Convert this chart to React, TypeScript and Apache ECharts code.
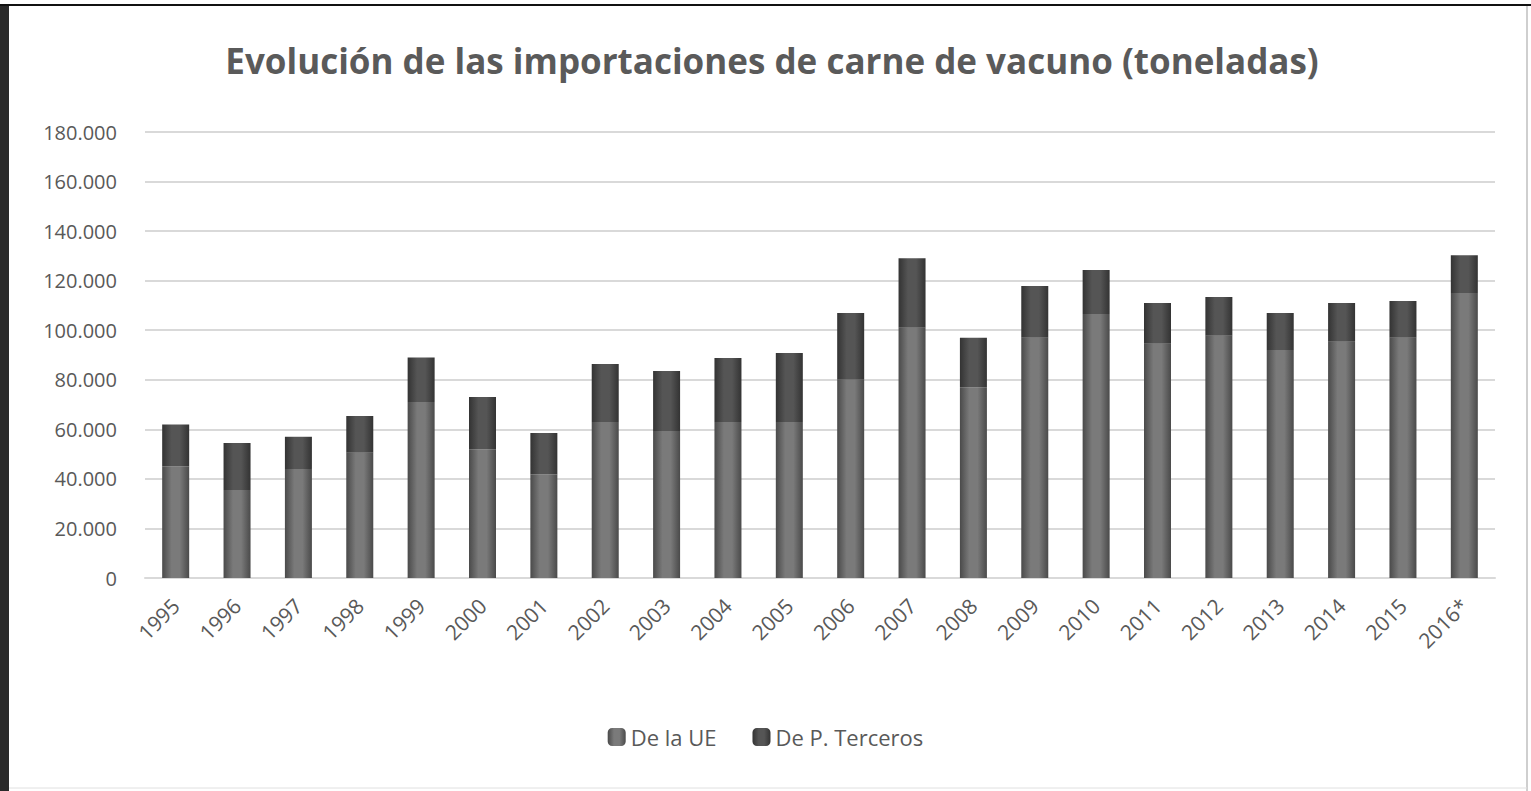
import React, { useEffect, useRef } from "react";
import * as echarts from "echarts";

const years = ["1995","1996","1997","1998","1999","2000","2001","2002","2003","2004","2005","2006","2007","2008","2009","2010","2011","2012","2013","2014","2015","2016*"];
const deLaUE = [45000,35500,44000,50500,71000,52000,41800,63000,59300,63000,63000,80000,101000,77000,97000,106500,94500,97800,92000,95300,97000,115000];
const totals = [62000,54500,57000,65400,89000,73000,58500,86400,83500,88800,90800,107000,129000,97000,117800,124300,111000,113400,107000,111000,111800,130300];
const dePTerceros = totals.map((t, i) => t - deLaUE[i]);
const yTicksMax = 180000;
const yInterval = 20000;

const grad = (edge: string, mid: string) =>
  new echarts.graphic.LinearGradient(0, 0, 1, 0, [
    { offset: 0, color: edge },
    { offset: 0.35, color: mid },
    { offset: 0.65, color: mid },
    { offset: 1, color: edge },
  ]);

export default function App() {
  const ref = useRef<HTMLDivElement>(null);
  useEffect(() => {
    if (!ref.current) return;
    const chart = echarts.init(ref.current, undefined, { renderer: "svg" });
    const font = "'Open Sans', sans-serif";
    chart.setOption({
      animation: false,
      backgroundColor: "#ffffff",
      title: {
        text: "Evolución de las importaciones de carne de vacuno (toneladas)",
        left: 767,
        textAlign: "center",
        top: 38,
        textStyle: { fontFamily: font, fontSize: 35, fontWeight: "bold", color: "#5a5a5a" },
      },
      graphic: [
        { type: "rect", shape: { x: 0, y: 0, width: 9, height: 791 }, style: { fill: "#2a2a2a" } },
        { type: "rect", shape: { x: 0, y: 0, width: 1531, height: 6 }, style: { fill: "#ffffff" } },
        { type: "line", shape: { x1: 0, y1: 5, x2: 1531, y2: 5 }, style: { stroke: "#111", lineWidth: 2 } },
        { type: "line", shape: { x1: 1527, y1: 6, x2: 1527, y2: 791 }, style: { stroke: "#cfcfcf", lineWidth: 2 } },
        { type: "line", shape: { x1: 9, y1: 788, x2: 1527, y2: 788 }, style: { stroke: "#e0e0e0", lineWidth: 1 } },
      ],
      legend: {
        bottom: 38,
        left: "center",
        itemWidth: 18,
        itemHeight: 18,
        itemGap: 36,
        textStyle: { fontFamily: font, fontSize: 22, color: "#595959" },
        data: ["De la UE", "De P. Terceros"],
      },
      grid: { left: 145, right: 36, top: 132, bottom: 213 },
      xAxis: {
        type: "category",
        data: years,
        axisTick: { show: false },
        axisLine: { lineStyle: { color: "#d9d9d9", width: 2 } },
        axisLabel: { rotate: 45, margin: 24, fontFamily: font, fontSize: 21, color: "#595959", interval: 0 },
      },
      yAxis: {
        type: "value",
        min: 0,
        max: yTicksMax,
        interval: yInterval,
        axisLine: { show: false },
        axisTick: { show: false },
        splitLine: { lineStyle: { color: "#d9d9d9", width: 2 } },
        axisLabel: {
          margin: 28,
          fontFamily: font,
          fontSize: 20,
          color: "#595959",
          formatter: (v: number) => v.toLocaleString("de-DE"),
        },
      },
      series: [
        {
          name: "De la UE",
          type: "bar",
          stack: "total",
          barWidth: "44%",
          data: deLaUE,
          itemStyle: { color: grad("#4a4a4a", "#7a7a7a") },
        },
        {
          name: "De P. Terceros",
          type: "bar",
          stack: "total",
          barWidth: "44%",
          data: dePTerceros,
          itemStyle: { color: grad("#333333", "#555555") },
        },
      ],
    });
    return () => chart.dispose();
  }, []);
  return <div ref={ref} style={{ position: "absolute", left: 0, top: 0, width: 1531, height: 791 }} />;
}
